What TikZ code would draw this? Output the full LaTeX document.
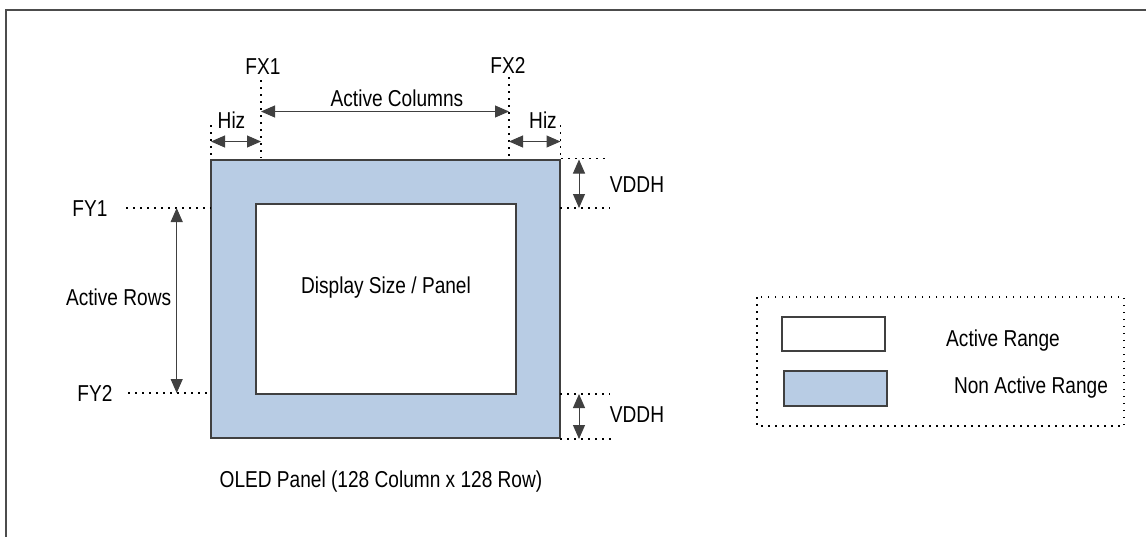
\documentclass[tikz,border=0pt]{standalone}
\usepackage{fontspec}
\setmainfont{Liberation Sans}[FakeStretch=0.83]
\usepackage{tikz}
\usetikzlibrary{arrows.meta,positioning}
\definecolor{nonact}{HTML}{B8CCE4}
\definecolor{edgegr}{HTML}{404040}
\tikzset{lbl/.style={inner sep=0pt,font=\fontsize{11.5}{13}\selectfont}}
\tikzset{panbox/.style={rectangle,draw=edgegr,line width=0.6pt,inner sep=0pt}}
\tikzset{dotln/.style={dash pattern=on 0.75pt off 2.75pt,line width=0.75pt}}
\tikzset{dimarr/.style={{Triangle[length=7pt,width=6pt]}-{Triangle[length=7pt,width=6pt]},line width=0.5pt,draw=black!75}}

\begin{document}
\begin{tikzpicture}[x=0.5pt,y=-0.5pt]
\useasboundingbox (0,0) rectangle (1146,537);
% frame
\coordinate (frtr) at (1146,9.5);
\coordinate (frtl) at (5.5,9.5);
\coordinate (frbl) at (5.5,537);
\draw[line width=1pt,draw=black!70] (frtr) -- (frtl) -- (frbl);

% panel
\node [panbox,fill=nonact,minimum width=174.5pt,minimum height=139pt] at (385.5,299) (pan) {};
\node [panbox,fill=white,minimum width=130pt,minimum height=95pt] at (386,299) (act) {};
\node [lbl] at (386,288) (disp) {Display Size / Panel};
\node [lbl] at (381,482) (oled) {OLED Panel (128 Column x 128 Row)};

% columns
\node [lbl] at (263,67) (fx1) {FX1};
\node [lbl] at (508,65) (fx2) {FX2};
\coordinate (fx1t) at (261,80);
\coordinate (fx1b) at (261,158);
\coordinate (fx2t) at (509,77);
\coordinate (fx2b) at (509,157);
\coordinate (hzlt) at (211,125);
\coordinate (hzlb) at (211,160);
\coordinate (hzrt) at (560.5,125);
\coordinate (hzrb) at (560.5,158);
\draw[dotln] (fx1t) -- (fx1b);
\draw[dotln] (fx2t) -- (fx2b);
\draw[dotln] (hzlt) -- (hzlb);
\draw[dotln] (hzrt) -- (hzrb);

\coordinate (acl) at (261,111.5);
\coordinate (acr) at (509,111.5);
\draw[dimarr] (acl) -- (acr);
\node [lbl] at (397,98) (acol) {Active Columns};

\coordinate (hzl1) at (211,141.5);
\coordinate (hzl2) at (261,141.5);
\coordinate (hzr1) at (509,141.5);
\coordinate (hzr2) at (560.5,141.5);
\draw[dimarr] (hzl1) -- (hzl2);
\draw[dimarr] (hzr1) -- (hzr2);
\node [lbl] at (231.5,120) (hizl) {Hiz};
\node [lbl] at (543,120) (hizr) {Hiz};

% vddh
\coordinate (vt1a) at (561,158.5);
\coordinate (vt1b) at (610,158.5);
\coordinate (vt2a) at (560,208);
\coordinate (vt2b) at (610,208);
\draw[dotln] (vt1a) -- (vt1b);
\draw[dotln] (vt2a) -- (vt2b);
\coordinate (vta) at (579,159.5);
\coordinate (vtb) at (579,208);
\draw[dimarr] (vta) -- (vtb);
\node [lbl] at (637,185) (vddht) {VDDH};

\coordinate (vb1a) at (560,394);
\coordinate (vb1b) at (610,394);
\coordinate (vb2a) at (560,439);
\coordinate (vb2b) at (612,439);
\draw[dotln] (vb1a) -- (vb1b);
\draw[dotln] (vb2a) -- (vb2b);
\coordinate (vba) at (579,394);
\coordinate (vbb) at (579,439);
\draw[dimarr] (vba) -- (vbb);
\node [lbl] at (637,415) (vddhb) {VDDH};

% rows
\node [lbl] at (90,209) (fy1) {FY1};
\node [lbl] at (95,393) (fy2) {FY2};
\coordinate (fy1a) at (126,208);
\coordinate (fy1b) at (211,208);
\coordinate (fy2a) at (128,393);
\coordinate (fy2b) at (210,393);
\draw[dotln] (fy1a) -- (fy1b);
\draw[dotln] (fy2a) -- (fy2b);
\coordinate (art) at (176.7,208);
\coordinate (arb) at (176.7,393);
\draw[dimarr] (art) -- (arb);
\node [lbl] at (118.6,297) (arow) {Active Rows};

% legend
\coordinate (lgtl) at (757,297);
\coordinate (lgbr) at (1124,426);
\draw[dotln] (lgtl) rectangle (lgbr);
\node [panbox,fill=white,minimum width=51.5pt,minimum height=17pt] at (833.5,334) (lgact) {};
\node [panbox,fill=nonact,minimum width=51.5pt,minimum height=17.5pt] at (835.5,388.5) (lgnon) {};
\node [lbl] at (1003,341) (tact) {Active Range};
\node [lbl] at (1031,388) (tnon) {Non Active Range};
\end{tikzpicture}
\end{document}
